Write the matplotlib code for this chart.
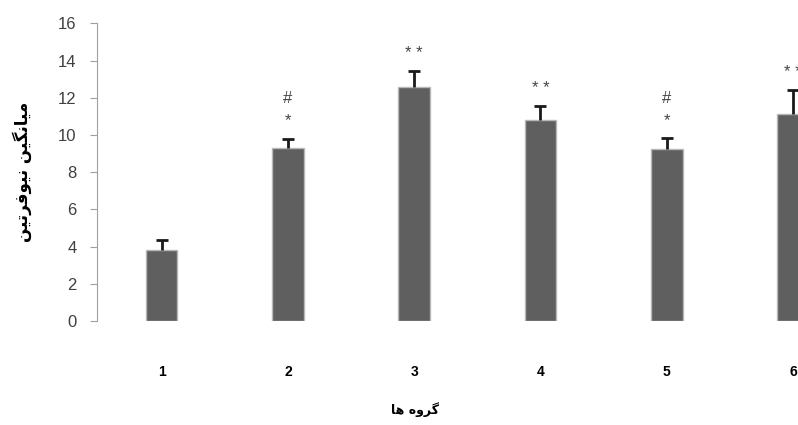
import numpy as np
import matplotlib
matplotlib.use('Agg')
import matplotlib.pyplot as plt

# data
groups = ['1', '2', '3', '4', '5', '6']
means = [3.8, 9.3, 12.55, 10.8, 9.23, 11.1]
errors = [0.58, 0.5, 0.87, 0.77, 0.6, 1.3]
marks = [[], ['*', '#'], ['* *'], ['* *'], ['*', '#'], ['* *']]
y_ticks = [0, 2, 4, 6, 8, 10, 12, 14, 16]
x_title = 'گروه ها'
y_title = 'میانگین نیوفرتین'

# minimal persian shaping (matplotlib does not join letters or do RTL)
FORMS = {
    'ا': ('\uFE8D', '\uFE8E', None, None),
    'ر': ('\uFEAD', '\uFEAE', None, None),
    'و': ('\uFEED', '\uFEEE', None, None),
    'ت': ('\uFE95', '\uFE96', '\uFE97', '\uFE98'),
    'ف': ('\uFED1', '\uFED2', '\uFED3', '\uFED4'),
    'م': ('\uFEE1', '\uFEE2', '\uFEE3', '\uFEE4'),
    'ن': ('\uFEE5', '\uFEE6', '\uFEE7', '\uFEE8'),
    'ه': ('\uFEE9', '\uFEEA', '\uFEEB', '\uFEEC'),
    'ی': ('\uFBFC', '\uFBFD', '\uFBFE', '\uFBFF'),
    'گ': ('\uFB92', '\uFB93', '\uFB94', '\uFB95'),
}

def shape(text):
    out = []
    for i, c in enumerate(text):
        if c not in FORMS:
            out.append(c)
            continue
        prev = text[i - 1] if i > 0 else None
        nxt = text[i + 1] if i + 1 < len(text) else None
        jp = prev in FORMS and FORMS[prev][2] is not None
        jn = nxt in FORMS and FORMS[c][2] is not None
        iso, fin, ini, med = FORMS[c]
        if jp and jn:
            out.append(med)
        elif jp:
            out.append(fin)
        elif jn:
            out.append(ini)
        else:
            out.append(iso)
    return ''.join(out)[::-1]

fig = plt.figure(figsize=(7.98, 4.25), dpi=100)
ax = fig.add_axes([0.1219, 0.2447, 0.951, 0.7005])

x = np.arange(1, len(groups) + 1)
ax.bar(x, means, width=0.25, color='#5f5f5f', edgecolor='#b8b8b8', linewidth=1, zorder=2)
eb = ax.errorbar(x, means, yerr=[np.zeros(len(errors)), errors], fmt='none',
                 ecolor='#1a1a1a', elinewidth=2, capsize=4.2, capthick=2, zorder=3)
# only the upper cap is drawn in the original
eb[1][0].set_visible(False)

for xi, m, e, mk in zip(x, means, errors, marks):
    for k, s in enumerate(mk):
        ax.text(xi, m + e + 0.95 + 1.2 * k, s, ha='center', va='center',
                fontsize=12, color='#444444', family='Liberation Sans')

ax.set_xlim(0.49, 6.5)
ax.set_ylim(0, 16)
ax.set_yticks(y_ticks)
ax.set_xticks(x)
ax.set_xticklabels(groups, fontsize=10, fontweight='bold', family='Liberation Sans')
ax.tick_params(axis='x', length=0, pad=32)
ax.tick_params(axis='y', direction='out', length=5, color='#a0a0a0', pad=10,
               labelsize=12, labelcolor='#404040')
for lbl in ax.get_yticklabels():
    lbl.set_family('Liberation Sans')

for s in ['top', 'right', 'bottom']:
    ax.spines[s].set_visible(False)
ax.spines['left'].set_color('#a0a0a0')

fig.text(415 / 798, 1 - 410 / 425, shape(x_title), ha='center', va='center',
         fontsize=9, fontweight='bold', family='DejaVu Sans')
fig.text(22 / 798, 1 - 172 / 425, shape(y_title), ha='center', va='center',
         rotation=90, fontsize=12, fontweight='bold', family='DejaVu Sans')

fig.savefig('out.png', dpi=100)
